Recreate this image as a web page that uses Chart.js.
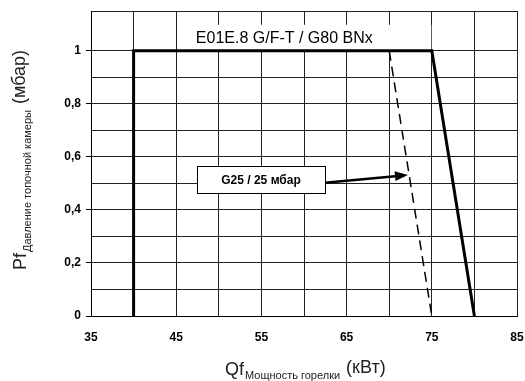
<!DOCTYPE html>
<html>
<head>
<meta charset="utf-8">
<script src="https://cdn.jsdelivr.net/npm/chart.js@4"></script>
<style>
  html, body { margin: 0; padding: 0; background: #fff; }
  #wrap { width: 525px; height: 381px; }
</style>
</head>
<body>
<div id="wrap"><canvas id="chart" width="525" height="381"></canvas></div>
<script>
// burner curve (solid) and G25 curve (dashed)
const mainX = [40, 40, 75, 80];
const mainY = [0, 1, 1, 0];
const g25X = [70, 75];
const g25Y = [1, 0];

const xMin = 35, xMax = 85, xStep = 5;
const yMin = 0, yMax = 1.15, yStep = 0.1;

const titleText = 'E01E.8 G/F-T / G80 BNx';
const gasLabel = 'G25 / 25 мбар';

const FONT = '"Liberation Sans", Arial, sans-serif';
Chart.defaults.font.family = FONT;
Chart.defaults.color = '#000';

const toPoints = (xs, ys) => xs.map((x, i) => ({ x: x, y: ys[i] }));

function yLabel(v) {
    const tenth = Math.round(v * 10);
    if (tenth % 2 !== 0 || tenth > 10) return '';
    if (tenth === 0) return '0';
    if (tenth === 10) return '1';
    return (tenth / 10).toFixed(1).replace('.', ',');
}

// white box behind the model name, under the curves
const titleBox = {
    id: 'titleBox',
    beforeDatasetsDraw(chart) {
        const { ctx, scales: { x, y } } = chart;
        const left = x.getPixelForValue(46.6), right = x.getPixelForValue(75);
        const top = y.getPixelForValue(1.1), bottom = y.getPixelForValue(1);
        ctx.save();
        ctx.fillStyle = '#fff';
        ctx.fillRect(left, top + 0.5, right - left - 0.5, bottom - top - 1);
        ctx.fillStyle = '#000';
        ctx.font = '16px ' + FONT;
        ctx.textBaseline = 'middle';
        ctx.fillText(titleText, left + 6, (top + bottom) / 2 + 1);
        ctx.restore();
    }
};

// label box, arrow and axis titles with subscripts
const extras = {
    id: 'extras',
    afterDraw(chart) {
        const { ctx, scales: { x, y } } = chart;
        ctx.save();

        // G25 box
        const bl = x.getPixelForValue(47.45), br = x.getPixelForValue(62.46);
        const bt = y.getPixelForValue(0.566), bb = y.getPixelForValue(0.464);
        ctx.fillStyle = '#fff';
        ctx.fillRect(bl, bt, br - bl, bb - bt);
        ctx.strokeStyle = '#000';
        ctx.lineWidth = 1;
        ctx.strokeRect(Math.round(bl) + 0.5, Math.round(bt) + 0.5, Math.round(br - bl), Math.round(bb - bt));
        ctx.fillStyle = '#000';
        ctx.font = 'bold 12px ' + FONT;
        ctx.textAlign = 'center';
        ctx.textBaseline = 'middle';
        ctx.fillText(gasLabel, (bl + br) / 2, (bt + bb) / 2 + 1);

        // arrow
        const ax0 = br, ay0 = y.getPixelForValue(0.502);
        const ax1 = x.getPixelForValue(72.2), ay1 = y.getPixelForValue(0.532);
        const ang = Math.atan2(ay1 - ay0, ax1 - ax0);
        const headLen = 13, headW = 5;
        ctx.lineWidth = 2.5;
        ctx.beginPath();
        ctx.moveTo(ax0, ay0);
        ctx.lineTo(ax1 - headLen * Math.cos(ang), ay1 - headLen * Math.sin(ang));
        ctx.stroke();
        ctx.beginPath();
        ctx.moveTo(ax1, ay1);
        ctx.lineTo(ax1 - headLen * Math.cos(ang) + headW * Math.sin(ang), ay1 - headLen * Math.sin(ang) - headW * Math.cos(ang));
        ctx.lineTo(ax1 - headLen * Math.cos(ang) - headW * Math.sin(ang), ay1 - headLen * Math.sin(ang) + headW * Math.cos(ang));
        ctx.closePath();
        ctx.fill();

        ctx.textAlign = 'left';
        ctx.textBaseline = 'alphabetic';
        ctx.fillStyle = '#222';

        // x title: Qf_Мощность горелки (кВт)
        let px = 225;
        ctx.font = '18px ' + FONT;
        ctx.fillText('Qf', px, 375);
        px += ctx.measureText('Qf').width + 1;
        ctx.font = '11px ' + FONT;
        ctx.fillText('Мощность горелки', px, 379);
        px += ctx.measureText('Мощность горелки').width + 6;
        ctx.font = '18px ' + FONT;
        ctx.fillText('(кВт)', px, 373);

        // y title, rotated
        ctx.translate(26, 270);
        ctx.rotate(-Math.PI / 2);
        let py = 0;
        ctx.font = '18px ' + FONT;
        ctx.fillText('Pf', py, 0);
        py += ctx.measureText('Pf').width + 1;
        ctx.font = '11px ' + FONT;
        ctx.fillText('Давление топочной камеры', py, 5);
        py += ctx.measureText('Давление топочной камеры').width + 6;
        ctx.font = '18px ' + FONT;
        ctx.fillText('(мбар)', py, -1);

        ctx.restore();
    }
};

new Chart(document.getElementById('chart'), {
    type: 'scatter',
    data: {
        datasets: [
            {
                label: 'main',
                data: toPoints(mainX, mainY),
                showLine: true,
                borderColor: '#000',
                borderWidth: 3,
                pointRadius: 0,
                borderJoinStyle: 'miter'
            },
            {
                label: 'G25',
                data: toPoints(g25X, g25Y),
                showLine: true,
                borderColor: '#000',
                borderWidth: 1.5,
                borderDash: [10, 6],
                pointRadius: 0
            }
        ]
    },
    plugins: [titleBox, extras],
    options: {
        responsive: false,
        animation: false,
        layout: { padding: { left: 0, right: 8, top: 11, bottom: 0 } },
        plugins: {
            legend: { display: false },
            tooltip: { enabled: false }
        },
        scales: {
            x: {
                type: 'linear',
                min: xMin,
                max: xMax,
                afterFit(scale) {
                    scale.height = 65;
                    scale.paddingLeft = 0;
                    scale.paddingRight = 0;
                },
                ticks: {
                    stepSize: xStep,
                    autoSkip: false,
                    maxRotation: 0,
                    padding: 14,
                    font: { size: 12, weight: 'bold' },
                    callback: (v) => ((v - xMin) % 10 === 0 ? String(v) : '')
                },
                grid: { color: '#222', lineWidth: 1, drawTicks: false },
                border: { color: '#000', width: 1 }
            },
            y: {
                type: 'linear',
                min: yMin,
                max: yMax,
                afterFit(scale) {
                    scale.width = 91;
                    scale.paddingTop = 0;
                    scale.paddingBottom = 0;
                },
                ticks: {
                    stepSize: yStep,
                    autoSkip: false,
                    padding: 5,
                    font: { size: 12, weight: 'bold' },
                    callback: (v) => yLabel(v)
                },
                grid: {
                    color: '#222',
                    lineWidth: 1,
                    tickLength: 5,
                    tickColor: (c) => (c.tick && yLabel(c.tick.value) !== '' ? '#000' : 'rgba(0,0,0,0)')
                },
                border: { color: '#000', width: 1 }
            }
        }
    }
});
</script>
</body>
</html>
